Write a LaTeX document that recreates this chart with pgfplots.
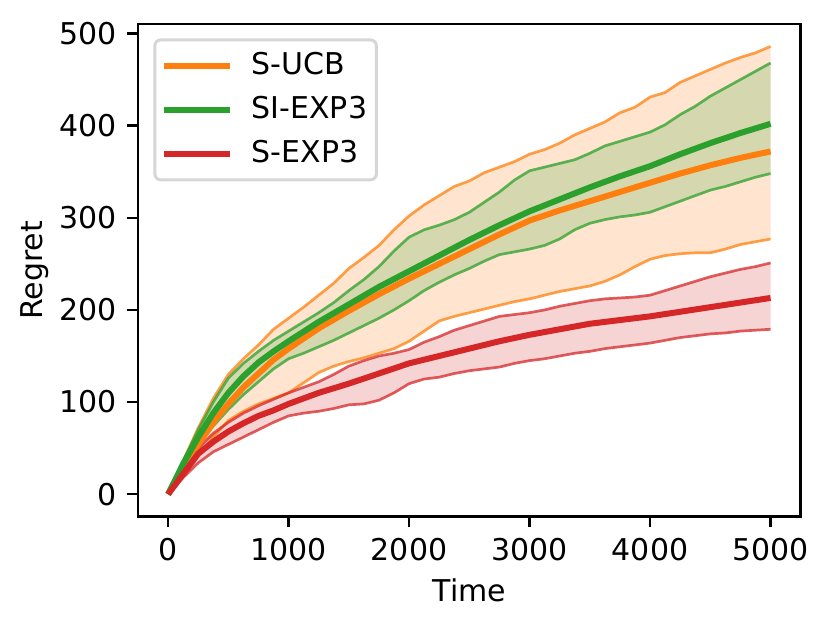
\documentclass[border=0pt]{standalone}
\usepackage{fontspec}
\setmainfont{DejaVu Sans}
\usepackage{pgfplots}
\usepackage{pgfplotstable}
\pgfplotsset{compat=1.18}
\usepgfplotslibrary{fillbetween}
\definecolor{tOrange}{RGB}{255,127,14}
\definecolor{tGreen}{RGB}{44,160,44}
\definecolor{tRed}{RGB}{214,39,40}
\definecolor{lgEdge}{RGB}{214,214,214}

\pgfplotstableread{
t up lo
0 0 0
125 36 22
250 72 42
375 104 62
500 130 80
625 147 90
750 162 98
875 179 104
1000 191 110
1125 203 121
1250 216 132
1375 229 139
1500 245 144
1625 257 148
1750 270 153
1875 287 158
2000 302 166
2125 314 177
2250 324 188
2375 334 193
2500 340 197
2625 349 201
2750 355 205
2875 361 209
3000 369 212
3125 374 216
3250 381 220
3375 390 223
3500 397 226
3625 404 231
3750 414 238
3875 420 247
4000 431 255
4125 436 259
4250 447 261
4375 454 262
4500 461 262
4625 468 266
4750 474 271
4875 479 274
5000 486 277
}\orangeB

\pgfplotstableread{
t up lo
0 0 0
125 36 28
250 70 54
375 100 74
500 126 92
625 142 108
750 155 122
875 167 136
1000 177 147
1125 187 153
1250 197 160
1375 208 167
1500 221 175
1625 233 183
1750 247 191
1875 264 200
2000 279 210
2125 287 221
2250 292 230
2375 298 238
2500 306 245
2625 317 253
2750 328 260
2875 341 263
3000 351 266
3125 355 270
3250 359 277
3375 363 287
3500 370 294
3625 378 298
3750 383 301
3875 388 303
4000 393 306
4125 401 312
4250 412 318
4375 421 324
4500 432 330
4625 441 334
4750 450 339
4875 459 344
5000 468 348
}\greenB

\pgfplotstableread{
t up lo
0 0 0
125 26 18
250 50 34
375 66 46
500 78 54
625 88 62
750 96 70
875 103 78
1000 110 85
1125 116 88
1250 122 90
1375 130 93
1500 139 97
1625 145 98
1750 150 102
1875 153 110
2000 157 120
2125 165 125
2250 171 127
2375 178 131
2500 183 134
2625 188 136
2750 193 138
2875 195 142
3000 197 145
3125 200 147
3250 204 150
3375 207 153
3500 210 155
3625 212 158
3750 213 160
3875 214 162
4000 216 164
4125 221 167
4250 226 170
4375 231 172
4500 236 174
4625 240 175
4750 244 177
4875 247 178
5000 251 179
}\redB

\pgfplotstableread{
t o g r
0 0 0 0
125 28 33 22
250 54 62 44
375 78 88 57
500 98 110 68
625 116 128 77
750 131 143 85
875 146 155 91
1000 158 166 98
1250 180 187 110
1500 199 206 120
1750 217 225 131
2000 234 242 142
2250 250 259 150
2500 266 276 158
2750 282 292 166
3000 297 307 173
3250 308 320 179
3500 318 333 185
3750 328 345 189
4000 338 356 193
4250 348 369 198
4500 357 381 203
4750 365 392 208
5000 372 402 213
}\means

\begin{document}
\begin{tikzpicture}
\begin{axis}[
  at={(0,0)}, anchor=south west,
  scale only axis, width=220.9pt, height=164.2pt,
  xmin=-250, xmax=5250, ymin=-24.3, ymax=510.3,
  xtick={0,1000,2000,3000,4000,5000},
  ytick={0,100,200,300,400,500},
  tick align=outside, xtick pos=bottom, ytick pos=left,
  major tick length=3.5pt,
  tick style={black, line width=0.8pt},
  axis line style={line width=0.8pt},
  /pgf/number format/assume math mode=true,
  /pgf/number format/1000 sep={},
  scaled ticks=false,
  tick label style={font=\fontsize{10}{12}\selectfont, inner sep=0pt},
  xticklabel style={yshift=-3.5pt},
  yticklabel style={xshift=-3.5pt},
  xlabel={Time}, ylabel={Regret},
  label style={font=\fontsize{10}{12}\selectfont},
  xlabel style={yshift=-2.5pt},
  legend cell align=left,
  legend style={at={(0,1)}, anchor=north west, xshift=5.1pt, yshift=-4.8pt,
    draw=lgEdge, line width=1pt, rounded corners=2pt, fill=white, fill opacity=0.8,
    text opacity=1, draw opacity=1, font=\fontsize{10}{12}\selectfont,
    inner xsep=3.1pt, inner ysep=4.35pt, column sep=7.2pt, row sep=5.85pt,
    nodes={inner sep=0pt, text height=7.3pt, text depth=1.45pt}},
  legend image code/.code={\draw[#1, line width=2pt, line cap=rect, opacity=1] (1pt,0pt) -- (21pt,0pt);},
]
% S-UCB band
\addplot[name path=ou, tOrange, line width=0.9pt, draw opacity=0.75, forget plot] table[x=t, y=up] {\orangeB};
\addplot[name path=ol, tOrange, line width=0.9pt, draw opacity=0.75, forget plot] table[x=t, y=lo] {\orangeB};
\addplot[fill=tOrange, fill opacity=0.2, draw=none, forget plot] fill between[of=ou and ol];
% SI-EXP3 band
\addplot[name path=gu, tGreen, line width=0.9pt, draw opacity=0.75, forget plot] table[x=t, y=up] {\greenB};
\addplot[name path=gl, tGreen, line width=0.9pt, draw opacity=0.75, forget plot] table[x=t, y=lo] {\greenB};
\addplot[fill=tGreen, fill opacity=0.2, draw=none, forget plot] fill between[of=gu and gl];
% S-EXP3 band
\addplot[name path=ru, tRed, line width=0.9pt, draw opacity=0.75, forget plot] table[x=t, y=up] {\redB};
\addplot[name path=rl, tRed, line width=0.9pt, draw opacity=0.75, forget plot] table[x=t, y=lo] {\redB};
\addplot[fill=tRed, fill opacity=0.2, draw=none, forget plot] fill between[of=ru and rl];
% means
\addplot[tOrange, line width=2pt] table[x=t, y=o] {\means};
\addlegendentry{S-UCB}
\addplot[tGreen, line width=2pt] table[x=t, y=g] {\means};
\addlegendentry{SI-EXP3}
\addplot[tRed, line width=2pt] table[x=t, y=r] {\means};
\addlegendentry{S-EXP3}
\end{axis}
\pgfresetboundingbox
\useasboundingbox (-46pt,-37.43pt) rectangle (230.67pt,172.2pt);
\end{tikzpicture}
\end{document}
